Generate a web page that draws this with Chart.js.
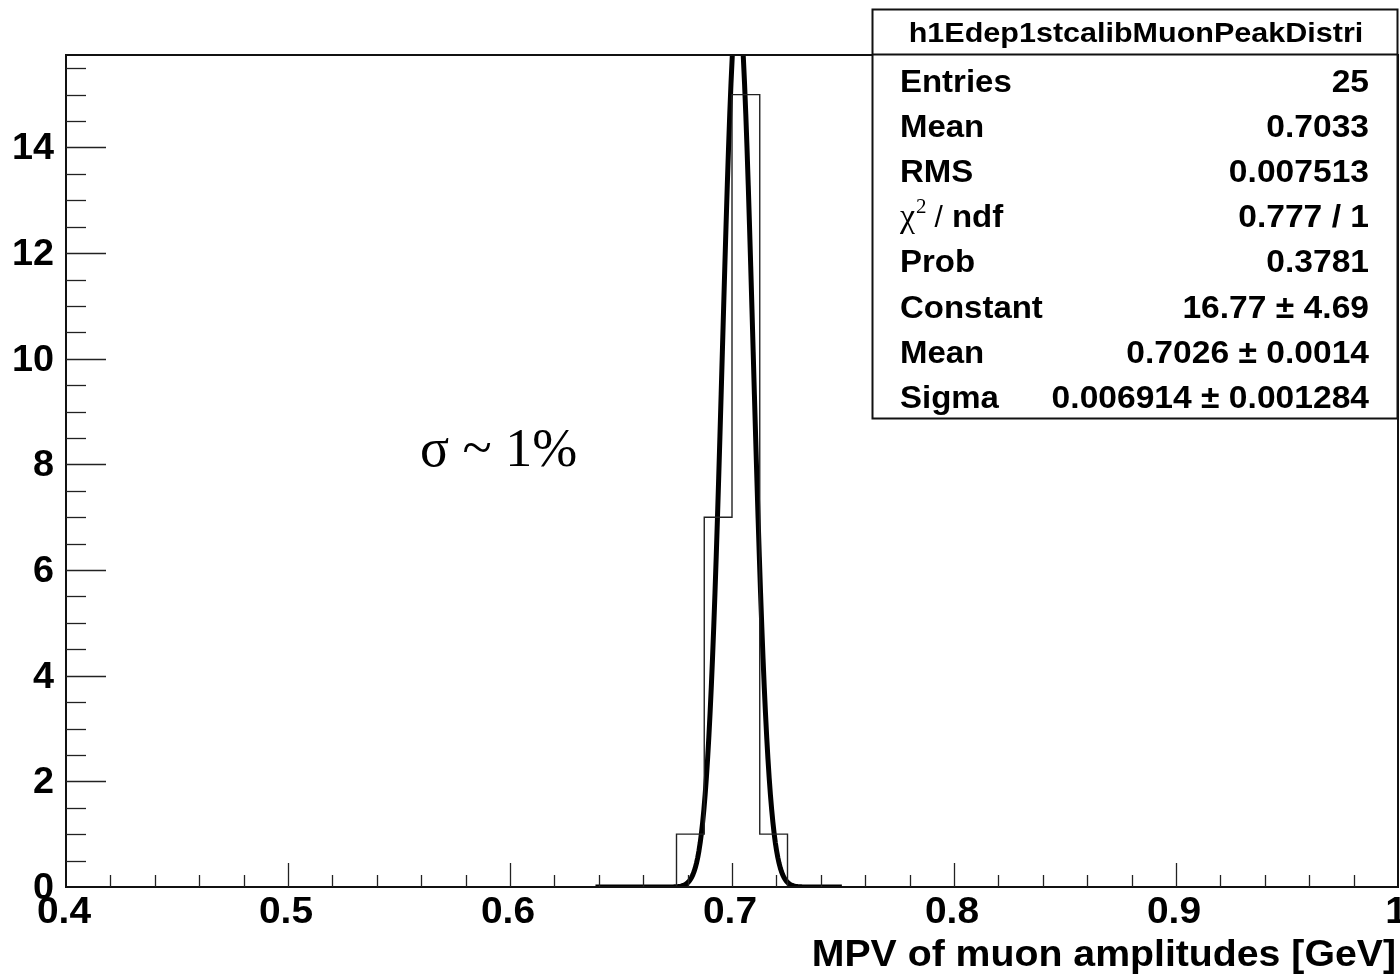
<!DOCTYPE html>
<html>
<head>
<meta charset="utf-8">
<title>MPV of muon amplitudes</title>
<script src="https://cdn.jsdelivr.net/npm/chart.js@4.4.1/dist/chart.umd.min.js"></script>
<style>
  html, body { margin: 0; padding: 0; background: #ffffff; }
  canvas { display: block; }
</style>
</head>
<body>
<canvas id="c" width="1400" height="976"></canvas>
<script>
// ---- histogram contents ----
const histName = 'h1Edep1stcalibMuonPeakDistri';
const binEdges = [0.675, 0.6875, 0.7, 0.7125, 0.725];
const binCounts = [1, 7, 15, 1];

// ---- axes ----
const xRange = [0.4, 1.0];
const yRange = [0, 15.75];
const xTickValues = [0.4, 0.5, 0.6, 0.7, 0.8, 0.9, 1.0];
const xTickLabels = ['0.4', '0.5', '0.6', '0.7', '0.8', '0.9', '1'];
const yTickValues = [0, 2, 4, 6, 8, 10, 12, 14];
const yTickLabels = ['0', '2', '4', '6', '8', '10', '12', '14'];
const xMinorStep = 0.02;
const yMinorStep = 0.5;
const xTitle = 'MPV of muon amplitudes [GeV]';

// ---- statistics box ----
const statLabels = ['Entries', 'Mean', 'RMS', 'CHI2NDF', 'Prob', 'Constant', 'Mean', 'Sigma'];
const statValues = ['25', '0.7033', '0.007513', '0.777 / 1', '0.3781', '16.77 \u00b1 4.69', '0.7026 \u00b1 0.0014', '0.006914 \u00b1 0.001284'];

// ---- gaussian fit result (Constant, Mean, Sigma) and its drawing range ----
const fitConstant = 16.77;
const fitMean = 0.7026;
const fitSigma = 0.006914;
const fitRange = [0.6385, 0.7495];
const fitSamples = 200;

const annotationText = '\u03c3 ~ 1%';

// histogram outline as a closed step path
function histogramOutline(edges, counts) {
  const pts = [{ x: edges[0], y: 0 }];
  counts.forEach((c, i) => {
    pts.push({ x: edges[i], y: c });
    pts.push({ x: edges[i + 1], y: c });
  });
  pts.push({ x: edges[edges.length - 1], y: 0 });
  return pts;
}

// fitted gaussian evaluated across its range
function fitCurve() {
  const pts = [];
  for (let i = 0; i <= fitSamples; i++) {
    const x = fitRange[0] + (fitRange[1] - fitRange[0]) * i / fitSamples;
    const z = (x - fitMean) / fitSigma;
    pts.push({ x, y: fitConstant * Math.exp(-0.5 * z * z) });
  }
  return pts;
}

const SANS = '"Liberation Sans", Arial, Helvetica, sans-serif';
const SERIF = '"Liberation Serif", "Times New Roman", serif';
const INK = '#111111';

// text drawn with a horizontal stretch factor (wide Helvetica look)
function wideText(ctx, text, x, y, align, sx) {
  ctx.save();
  ctx.translate(x, y);
  ctx.scale(sx, 1);
  ctx.textAlign = align;
  ctx.fillText(text, 0, 0);
  ctx.restore();
}

const framePlugin = {
  id: 'rootFrame',
  afterDatasetsDraw(chart) {
    const { ctx, chartArea: a, scales } = chart;
    const xs = scales.x, ys = scales.y;
    ctx.save();

    // frame
    ctx.strokeStyle = INK;
    ctx.lineWidth = 2;
    ctx.strokeRect(a.left, a.top, a.right - a.left, a.bottom - a.top);

    // y ticks (inside the frame)
    ctx.lineWidth = 1.3;
    ctx.strokeStyle = '#222';
    const yMajorLen = 40, yMinorLen = 20;
    for (let v = yRange[0] + yMinorStep; v <= yRange[1] + 1e-9; v += yMinorStep) {
      const isMajor = Math.abs(v / 2 - Math.round(v / 2)) < 1e-6;
      const py = Math.round(ys.getPixelForValue(v)) + 0.5;
      ctx.beginPath();
      ctx.moveTo(a.left, py);
      ctx.lineTo(a.left + (isMajor ? yMajorLen : yMinorLen), py);
      ctx.stroke();
    }

    // x ticks (inside the frame)
    const xMajorLen = 24, xMinorLen = 12;
    const nMinor = Math.round((xRange[1] - xRange[0]) / xMinorStep);
    for (let i = 1; i < nMinor; i++) {
      const v = xRange[0] + i * xMinorStep;
      const isMajor = i % 5 === 0;
      const px = Math.round(xs.getPixelForValue(v)) + 0.5;
      ctx.beginPath();
      ctx.moveTo(px, a.bottom);
      ctx.lineTo(px, a.bottom - (isMajor ? xMajorLen : xMinorLen));
      ctx.stroke();
    }

    // tick labels
    ctx.fillStyle = '#000';
    ctx.font = 'bold 36px ' + SANS;
    ctx.textBaseline = 'middle';
    yTickValues.forEach((v, i) => {
      wideText(ctx, yTickLabels[i], 54, ys.getPixelForValue(v) + 2, 'right', 1.05);
    });
    ctx.textBaseline = 'alphabetic';
    xTickValues.forEach((v, i) => {
      wideText(ctx, xTickLabels[i], xs.getPixelForValue(v) - 2, 923, 'center', 1.08);
    });

    // axis title
    wideText(ctx, xTitle, a.right - 2, 966, 'right', 1.09);

    // annotation
    ctx.font = '54px ' + SERIF;
    ctx.textAlign = 'left';
    ctx.fillText(annotationText, 420, 466);

    // statistics box
    const bx = 872.5, by = 9.5, bw = 525, bh = 409;
    ctx.fillStyle = '#fff';
    ctx.fillRect(bx, by, bw, bh);
    ctx.strokeStyle = INK;
    ctx.lineWidth = 2;
    ctx.strokeRect(bx, by, bw, bh);
    ctx.beginPath();
    ctx.moveTo(bx, 54.5);
    ctx.lineTo(bx + bw, 54.5);
    ctx.stroke();

    ctx.fillStyle = '#000';
    ctx.font = 'bold 28px ' + SANS;
    wideText(ctx, histName, 1136, 42, 'center', 1.09);

    const rowBase = 92, rowStep = 45.1;
    statLabels.forEach((lab, i) => {
      const yb = rowBase + i * rowStep;
      if (lab === 'CHI2NDF') {
        let x = 900;
        ctx.textAlign = 'left';
        ctx.font = '34px ' + SERIF;
        ctx.fillText('\u03c7', x, yb);
        x += ctx.measureText('\u03c7').width + 1;
        ctx.font = '21px ' + SERIF;
        ctx.fillText('2', x, yb - 14);
        x += ctx.measureText('2').width + 8;
        ctx.font = '30px ' + SANS;
        ctx.fillText('/', x, yb);
        x += ctx.measureText('/').width + 9;
        ctx.font = 'bold 32px ' + SANS;
        wideText(ctx, 'ndf', x, yb, 'left', 1.03);
      } else {
        ctx.font = 'bold 32px ' + SANS;
        wideText(ctx, lab, 900, yb, 'left', 1.03);
      }
      ctx.font = 'bold 32px ' + SANS;
      wideText(ctx, statValues[i], 1369, yb, 'right', 1.05);
    });

    ctx.restore();
  }
};

new Chart(document.getElementById('c'), {
  type: 'line',
  data: {
    datasets: [
      {
        label: 'histogram',
        data: histogramOutline(binEdges, binCounts),
        borderColor: '#222',
        borderWidth: 1.4,
        pointRadius: 0,
        tension: 0,
        fill: false,
        clip: 0
      },
      {
        label: 'gaus fit',
        data: fitCurve(),
        borderColor: '#000',
        borderWidth: 5,
        pointRadius: 0,
        tension: 0,
        fill: false,
        borderJoinStyle: 'round',
        clip: 0
      }
    ]
  },
  options: {
    responsive: false,
    animation: false,
    events: [],
    layout: { padding: { left: 66, top: 55, right: 2, bottom: 89 } },
    plugins: { legend: { display: false }, tooltip: { enabled: false } },
    scales: {
      x: { type: 'linear', min: xRange[0], max: xRange[1], display: false },
      y: { type: 'linear', min: yRange[0], max: yRange[1], display: false }
    }
  },
  plugins: [framePlugin]
});
</script>
</body>
</html>
